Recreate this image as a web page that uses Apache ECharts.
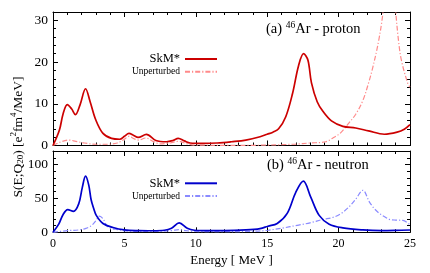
<!DOCTYPE html>
<html><head><meta charset="utf-8">
<script src="https://cdn.jsdelivr.net/npm/echarts@6/dist/echarts.min.js"></script>
<style>html,body{margin:0;padding:0;background:#fff}#c{width:430px;height:273px}</style>
</head><body><div id="c"></div>
<script>
// ---- data ----
const xTicks = [0, 5, 10, 15, 20, 25];
const protonSkmE = [0,0.45,0.7,1.0,1.3,1.57,1.9,2.28,2.6,3.0,3.5,4.1,4.67,5.0,5.32,5.65,5.96,6.54,7.2,7.95,8.4,8.77,9.2,9.6,10.5,11.5,12.5,13.5,14.5,15.0,15.4,15.8,16.3,16.77,17.2,17.55,17.85,18.1,18.5,18.9,19.5,20.3,21.2,22.1,23.2,24.1,24.6,25.0];
const protonSkmV = [0,3.7,7.5,9.8,8.8,7.4,9.8,13.6,10.5,6.1,2.9,1.7,1.5,2.2,2.9,2.4,1.95,2.65,1.2,0.9,1.2,1.7,1.1,0.6,0.5,0.6,0.9,1.3,2.1,2.7,3.2,4.0,6.9,12.4,19.2,22.0,20.5,15.0,10.5,8.2,5.9,4.6,4.2,3.5,2.7,3.2,3.9,5.0];
const protonUnpE = [0,0.5,1.1,1.6,2.2,3.0,3.8,4.5,5.0,5.3,5.7,6.0,6.5,7.0,7.5,8.2,8.8,9.4,10,12,14,15,16,17,18,19.1,19.6,20.1,20.7,21.2,21.7,22.1,22.4,22.8,23.1,23.3,23.55,23.8,24.0,24.2,24.4,24.85,25.0];
const protonUnpV = [0,0.8,1.3,1.0,0.6,0.3,0.3,0.6,1.5,2.2,1.6,1.3,1.8,1.0,0.4,0.6,1.0,0.4,0.1,0.05,0.05,0.1,0.2,0.35,0.6,0.9,1.8,2.9,5.3,7.5,10.8,15,18.8,25,31.7,40,50,40,32,25,20.4,14.8,14];
const neutronSkmE = [0,0.4,0.7,1.03,1.43,1.8,2.05,2.28,2.5,2.67,2.85,3.03,3.5,4.2,5.0,6.0,7.0,7.8,8.3,8.84,9.4,9.9,10.5,12,13.5,14.5,15.05,15.7,16.4,17.0,17.53,18.05,18.64,19.34,20.3,21.7,23,24,25];
const neutronSkmV = [0,12,26,33.6,31,42,66,82.8,70,48,35,25,13,7,3.5,2.5,2.3,3,6,14,6,3,2.5,2.5,3.5,5.5,9,13,28,59,75.5,52,25,12,6.5,3.5,2.5,2.8,3.4];
const neutronUnpE = [0,1.0,1.8,2.3,2.7,3.0,3.26,3.5,3.85,4.5,5.5,7,8.3,8.8,9.3,10,12,14,15.05,16,17.2,18,18.9,19.6,20.2,20.75,21.2,21.7,22.15,22.5,22.85,23.3,23.56,24,24.5,25];
const neutronUnpV = [0,2.5,3.5,5.8,10,17,24,20,8,4,1.5,1.2,2.5,4,2.5,1.2,1,1.5,3,6,10.7,14,19,22,28,38,49,62,45,35,28,22,19,18,17.5,11];
const topYMax = 32, botYMax = 120;

// ---- chart ----
const F = 'Liberation Serif';
const pair = (e, v) => e.map((x, i) => [x, v[i]]);
const grids = [
  {left: 53, right: 20, top: 12, height: 133.5},
  {left: 53, right: 20, top: 151, height: 81.3}
];
function xAx(grid, pos, labels) {
  return {type:'value', gridIndex:grid, position:pos, min:0, max:25, interval:5,
    axisLine:{show:true, onZero:false, lineStyle:{color:'#000', width:1}},
    axisTick:{show:true, inside:true, length:5, lineStyle:{color:'#000'}},
    minorTick:{show:true, splitNumber:5, length:3, lineStyle:{color:'#000'}},
    splitLine:{show:false},
    axisLabel:{show:labels, color:'#000', fontFamily:F, fontSize:12, margin:6},
    name: labels ? 'Energy [ MeV ]' : '', nameLocation:'middle', nameGap:22,
    nameTextStyle:{color:'#000', fontFamily:F, fontSize:13}};
}
function yAx(grid, pos, max, interval, tickLen, labelStep, line) {
  return {type:'value', gridIndex:grid, position:pos, min:0, max:max, interval:interval,
    axisLine:{show:line, onZero:false, lineStyle:{color:'#000', width:1}},
    axisTick:{show:true, inside:true, length:tickLen, lineStyle:{color:'#000'}},
    splitLine:{show:false},
    axisLabel:{show: labelStep > 0, showMaxLabel:false, color:'#000', fontFamily:F, fontSize:13.5, margin:5,
      formatter: v => (labelStep > 0 && v % labelStep === 0) ? String(v) : ''}};
}
const xAxes = [xAx(0,'bottom',false), xAx(0,'top',false), xAx(1,'bottom',true), xAx(1,'top',false)];
const yAxes = [
  yAx(0,'left',topYMax,2,3,10,true), yAx(0,'left',topYMax,10,5,0,false),
  yAx(0,'right',topYMax,2,3,0,true), yAx(0,'right',topYMax,10,5,0,false),
  yAx(1,'left',botYMax,10,3,50,true), yAx(1,'left',botYMax,50,5,0,false),
  yAx(1,'right',botYMax,10,3,0,true), yAx(1,'right',botYMax,50,5,0,false)
];
const dash = [5, 2, 1.2, 2];
function ser(name, xi, yi, data, color, w, type) {
  return {name, type:'line', xAxisIndex:xi, yAxisIndex:yi, data, symbol:'none', showSymbol:false,
    smooth:0.35, clip:true, lineStyle:{color, width:w, type}, itemStyle:{color}, z: type==='solid'?3:2, silent:true};
}
const series = [
  ser('a|Unperturbed', 0, 0, pair(protonUnpE, protonUnpV), '#ff8a8a', 1.2, dash),
  ser('a|SkM*', 0, 0, pair(protonSkmE, protonSkmV), '#cc0000', 1.7, 'solid'),
  ser('b|Unperturbed', 2, 4, pair(neutronUnpE, neutronUnpV), '#8a8aff', 1.2, dash),
  ser('b|SkM*', 2, 4, pair(neutronSkmE, neutronSkmV), '#0000cc', 1.7, 'solid')
];
function leg(name, top, fs, lh) {
  return {data:[{name, textStyle:{fontSize:fs, lineHeight:lh, fontFamily:F, color:'#000'}}],
    right:212, top, padding:0, itemWidth:32, itemHeight:10, align:'right', selectedMode:false,
    itemStyle:{opacity:0}, formatter: n => n.slice(2)};
}
const supRich = {
  n:{fontFamily:F, fontSize:14.5, fontWeight:'normal', color:'#000', lineHeight:18, verticalAlign:'bottom'},
  s:{fontFamily:F, fontSize:9.5, fontWeight:'normal', color:'#000', lineHeight:18, verticalAlign:'bottom', padding:[0,0,7,0]}
};
const opt = {
  animation:false,
  grid: grids,
  xAxis: xAxes, yAxis: yAxes, series,
  legend: [leg('a|SkM*', 52, 12.5, 14), leg('a|Unperturbed', 66.7, 9.5, 10),
           leg('b|SkM*', 176.3, 12.5, 14), leg('b|Unperturbed', 191, 9.5, 10)],
  title: [
    {text:'{n|(a) }{s|46}{n|Ar - proton}', left:266, top:19, padding:0, textStyle:{fontWeight:'normal', rich:supRich}},
    {text:'{n|(b) }{s|46}{n|Ar - neutron}', left:267, top:155, padding:0, textStyle:{fontWeight:'normal', rich:supRich}}
  ],
  graphic: [{type:'text', x:16, y:137, rotation:Math.PI/2, silent:true,
    style:{text:'{n|S(E;Q}{b|20}{n|) [e}{p|2}{n|fm}{p|4}{n|/MeV]}', align:'center', verticalAlign:'middle',
      rich:{
        n:{fontFamily:F, fontSize:13.5, fill:'#000', lineHeight:18, verticalAlign:'bottom'},
        b:{fontFamily:F, fontSize:9, fill:'#000', lineHeight:18, verticalAlign:'bottom', padding:[0,0,0,0]},
        p:{fontFamily:F, fontSize:9, fill:'#000', lineHeight:18, verticalAlign:'bottom', padding:[0,0,7,0]}
      }}}]
};
const chart = echarts.init(document.getElementById('c'), null, {renderer:'canvas'});
chart.setOption(opt);
</script></body></html>
